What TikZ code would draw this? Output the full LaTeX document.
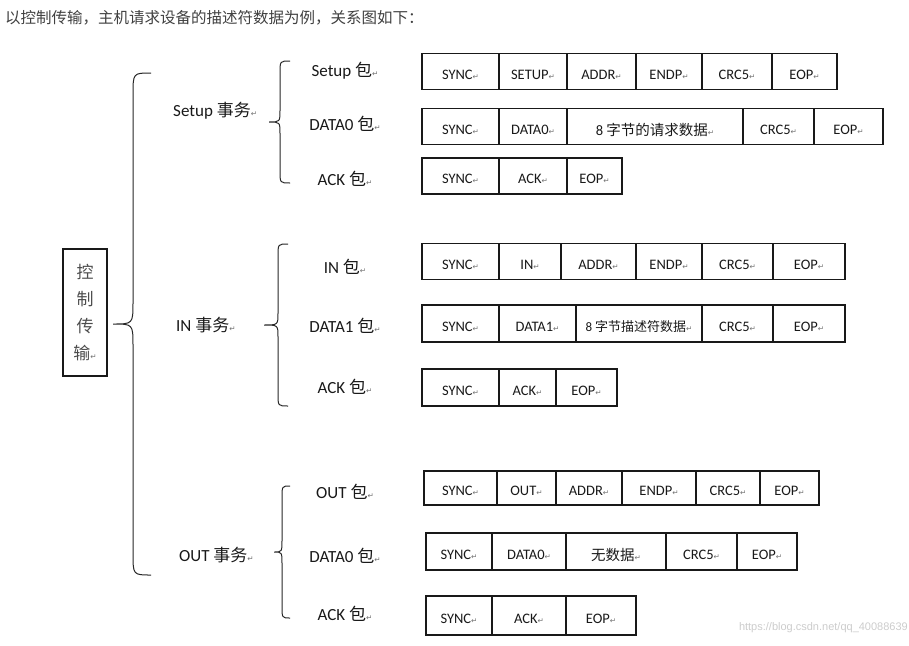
\documentclass[tikz,border=0pt]{standalone}
\usepackage{fontspec}
\setmainfont{Carlito}
\newfontfamily\cjk{Noto Sans CJK SC}
\newfontfamily\retfont{DejaVu Sans}
\newfontfamily\wmfont{Liberation Sans}

% small return mark after each text
\newcommand{\ret}{{\retfont\fontsize{7.5}{8}\selectfont\color{black!55}↵}}
% cell text sits a little low in its box
\newcommand{\low}[1]{\raisebox{-3pt}[\height][\depth]{#1}}
% curly brace: tip x, spine x, end x, top y, bottom y, bend
\newcommand{\curlybr}[6]{%
  \draw[brace line] (#3,#4) .. controls (#2,#4) .. (#2,{#4+#6})
    -- (#2,{(#4+#5)/2-#6}) .. controls (#2,{(#4+#5)/2}) .. (#1,{(#4+#5)/2})
    .. controls (#2,{(#4+#5)/2}) .. (#2,{(#4+#5)/2+#6})
    -- (#2,{#5-#6}) .. controls (#2,#5) .. (#3,#5);}

\tikzset{
  cell/.style={draw=black!90, line width=1.2pt, minimum height=36pt, inner sep=0pt,
    outer sep=0pt, font=\fontsize{14.5}{16}\selectfont, text=black!90},
  txlabel/.style={anchor=west, inner sep=0pt, font=\fontsize{17}{20}\selectfont, text=black!90},
  pktlabel/.style={inner sep=0pt, font=\fontsize{17}{20}\selectfont, text=black!90},
  brace line/.style={draw=black!85, line width=1pt},
}

\begin{document}
\begin{tikzpicture}[x=1pt,y=-1pt]
\useasboundingbox (0,0) rectangle (909,645);

\node[anchor=west, inner sep=0pt, font=\cjk\fontsize{15.5}{16}\selectfont, text=black!75] (title) at (5,18)
  {以控制传输，主机请求设备的描述符数据为例，关系图如下：};

\node[draw=black!90, line width=1.2pt, minimum width=44pt, minimum height=127pt, inner sep=0pt,
  align=center, font=\cjk\fontsize{17}{27}\selectfont, text=black!70] (ctrl) at (85,312.5)
  {控\\制\\传\\输\ret};

% transactions
\node[txlabel] (tsetup) at (173,111) {Setup {\cjk 事务}\ret};
\node[txlabel] (tin) at (176,325) {IN {\cjk 事务}\ret};
\node[txlabel] (tout) at (179,555) {OUT {\cjk 事务}\ret};

% packets
\node[pktlabel] (psetup) at (345,71) {Setup {\cjk 包}\ret};
\node[pktlabel] (pdata0) at (345,124) {DATA0 {\cjk 包}\ret};
\node[pktlabel] (packa) at (345,179) {ACK {\cjk 包}\ret};
\node[pktlabel] (pin) at (345,267) {IN {\cjk 包}\ret};
\node[pktlabel] (pdata1) at (345,326) {DATA1 {\cjk 包}\ret};
\node[pktlabel] (packb) at (345,387) {ACK {\cjk 包}\ret};
\node[pktlabel] (pout) at (345,492) {OUT {\cjk 包}\ret};
\node[pktlabel] (pdata0b) at (345,556) {DATA0 {\cjk 包}\ret};
\node[pktlabel] (packc) at (345,614) {ACK {\cjk 包}\ret};

% braces
\curlybr{113}{133}{151}{73}{575}{22}
\curlybr{269}{280}{290}{61}{183}{12}
\curlybr{264}{278}{288}{244}{406}{12}
\curlybr{274}{282}{290}{486}{618}{12}

% setup transaction
\foreach \a/\b/\txt [count=\i] in {422/499/SYNC, 499/567/SETUP, 567/636/ADDR, 636/702/ENDP, 702/772/CRC5, 772/837/EOP}{
  \pgfmathsetmacro\w{\b-\a}
  \node[cell, minimum width=\w pt] (stok\i) at ({(\a+\b)/2},71.5) {\low{\txt\ret}};}
\foreach \a/\b/\txt [count=\i] in {422/499/SYNC, 499/567/DATA0, 567/743/{8 {\cjk 字节的请求数据}}, 743/814/CRC5, 814/883/EOP}{
  \pgfmathsetmacro\w{\b-\a}
  \node[cell, minimum width=\w pt] (sdat\i) at ({(\a+\b)/2},126.5) {\low{\txt\ret}};}
\foreach \a/\b/\txt [count=\i] in {422/499/SYNC, 499/567/ACK, 567/622/EOP}{
  \pgfmathsetmacro\w{\b-\a}
  \node[cell, minimum width=\w pt] (sack\i) at ({(\a+\b)/2},176) {\low{\txt\ret}};}

% in transaction
\foreach \a/\b/\txt [count=\i] in {422/499/SYNC, 499/561/IN, 561/636/ADDR, 636/702/ENDP, 702/773/CRC5, 773/845/EOP}{
  \pgfmathsetmacro\w{\b-\a}
  \node[cell, minimum width=\w pt] (itok\i) at ({(\a+\b)/2},261.5) {\low{\txt\ret}};}
\foreach \a/\b/\txt [count=\i] in {422/499/SYNC, 499/576/DATA1, 576/702/{{\fontsize{13}{14}\selectfont 8 {\cjk 字节描述符数据}}}, 702/773/CRC5, 773/845/EOP}{
  \pgfmathsetmacro\w{\b-\a}
  \node[cell, minimum width=\w pt, minimum height=37pt] (idat\i) at ({(\a+\b)/2},323.5) {\low{\txt\ret}};}
\foreach \a/\b/\txt [count=\i] in {422/499/SYNC, 499/556/ACK, 556/617/EOP}{
  \pgfmathsetmacro\w{\b-\a}
  \node[cell, minimum width=\w pt, minimum height=37pt] (iack\i) at ({(\a+\b)/2},387.5) {\low{\txt\ret}};}

% out transaction
\foreach \a/\b/\txt [count=\i] in {424/497/SYNC, 497/556/OUT, 556/622/ADDR, 622/696/ENDP, 696/760/CRC5, 760/819/EOP}{
  \pgfmathsetmacro\w{\b-\a}
  \node[cell, minimum width=\w pt, minimum height=34pt] (otok\i) at ({(\a+\b)/2},488) {\low{\txt\ret}};}
\foreach \a/\b/\txt [count=\i] in {426/492/SYNC, 492/566/DATA0, 566/666/{{\cjk 无数据}}, 666/737/CRC5, 737/797/EOP}{
  \pgfmathsetmacro\w{\b-\a}
  \node[cell, minimum width=\w pt, minimum height=37pt] (odat\i) at ({(\a+\b)/2},551.5) {\low{\txt\ret}};}
\foreach \a/\b/\txt [count=\i] in {426/492/SYNC, 492/566/ACK, 566/636/EOP}{
  \pgfmathsetmacro\w{\b-\a}
  \node[cell, minimum width=\w pt, minimum height=39pt] (oack\i) at ({(\a+\b)/2},615.5) {\low{\txt\ret}};}

\node[anchor=east, inner sep=0pt, font=\wmfont\fontsize{11}{12}\selectfont, text=black!20] (wm) at (908,628)
  {https://blog.csdn.net/qq\_40088639};
\end{tikzpicture}
\end{document}
